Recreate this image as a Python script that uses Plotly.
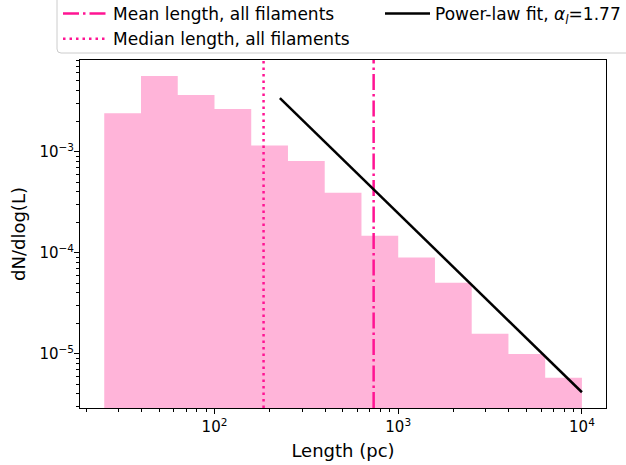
import numpy as np
import plotly.graph_objects as go

# Histogram of filament lengths: log-spaced bins (0.2 dex) and dN/dlog(L) per bin
bin_edges_log = [1.4, 1.6, 1.8, 2.0, 2.2, 2.4, 2.6, 2.8, 3.0, 3.2, 3.4, 3.6, 3.8, 4.0]
dn_dlogl = [2.40e-3, 5.60e-3, 3.63e-3, 2.64e-3, 1.15e-3, 8.09e-4, 3.91e-4,
            1.47e-4, 8.97e-5, 5.05e-5, 1.58e-5, 9.95e-6, 5.77e-6]

# Summary statistics of all filaments (pc)
mean_length = 735.0
median_length = 185.0

# Power-law fit: dN/dlog(L) = norm * L^(-alpha) over the fitted length range
fit_alpha = 1.77
fit_norm = 50.0
fit_range = [227.0, 1.0e4]

# Axis ranges (log10 units) and tick labels
x_range = [1.268, 4.131]
y_range = [-5.537, -2.094]
x_tickvals = [1e2, 1e3, 1e4]
x_ticktext = ["10<sup>2</sup>", "10<sup>3</sup>", "10<sup>4</sup>"]
y_tickvals = [1e-5, 1e-4, 1e-3]
y_ticktext = ["10<sup>\u22125</sup>", "10<sup>\u22124</sup>", "10<sup>\u22123</sup>"]

FONT = "DejaVu Sans"
PINK = "#FF1493"
HIST_FILL = "rgba(255,105,180,0.5)"

edges = [10 ** e for e in bin_edges_log]
floor = 1e-9  # below the visible range, bars are clipped at the axis bottom

# step outline of the histogram, closed on itself for the fill
hist_x = [edges[0]] + edges[:-1] + [edges[-1], edges[-1]]
hist_y = [floor] + dn_dlogl + [dn_dlogl[-1], floor]

fit_x = np.array(fit_range)
fit_y = fit_norm * fit_x ** (-fit_alpha)

y_span = [10 ** y_range[0], 10 ** y_range[1]]

fig = go.Figure()

fig.add_trace(go.Scatter(
    x=hist_x, y=hist_y, mode="lines", line=dict(width=0, shape="hv"),
    fill="toself", fillcolor=HIST_FILL, showlegend=False, hoverinfo="skip",
))

fig.add_trace(go.Scatter(
    x=[mean_length, mean_length], y=y_span, mode="lines",
    line=dict(color=PINK, width=2.5, dash="16px,4px,2.5px,4px"),
    name="Mean length, all filaments", legend="legend",
))
fig.add_trace(go.Scatter(
    x=[median_length, median_length], y=y_span, mode="lines",
    line=dict(color=PINK, width=2.5, dash="2.5px,4px"),
    name="Median length, all filaments", legend="legend",
))
fig.add_trace(go.Scatter(
    x=fit_x, y=fit_y, mode="lines",
    line=dict(color="black", width=2.5),
    name="Power-law fit, <i>\u03b1</i><sub><i>l</i></sub>=1.77", legend="legend2",
))

W, H = 626, 465
ML, MR, MT, MB = 80, 20, 60, 57
PW, PH = W - ML - MR, H - MT - MB


def px_x(px):
    return (px - ML) / PW


def px_y(py):
    return (H - MB - py) / PH


# legend frame: rounded box running off the top/right of the figure
bx0, bx1 = px_x(57), px_x(660)
by0, by1 = px_y(53), px_y(-10)
rx, ry = 4 / PW, 4 / PH
frame_path = (
    f"M{bx1},{by0} L{bx0 + rx},{by0} Q{bx0},{by0} {bx0},{by0 + ry} "
    f"L{bx0},{by1} L{bx1},{by1} Z"
)

legend_common = dict(
    font=dict(family=FONT, size=17, color="black"),
    bgcolor="rgba(0,0,0,0)", borderwidth=0,
    xanchor="left", yanchor="top", itemwidth=45,
    orientation="v", tracegroupgap=0,
)

fig.update_layout(
    width=W, height=H,
    margin=dict(l=ML, r=MR, t=MT, b=MB, pad=0, autoexpand=False),
    paper_bgcolor="white", plot_bgcolor="white",
    font=dict(family=FONT, size=15, color="black"),
    legend=dict(x=px_x(58), y=px_y(-4), **legend_common),
    legend2=dict(x=px_x(380), y=px_y(-4), **legend_common),
    shapes=[dict(
        type="path", xref="paper", yref="paper", path=frame_path,
        line=dict(color="#cccccc", width=1), fillcolor="rgba(255,255,255,0.8)",
        layer="above",
    )],
    xaxis=dict(
        type="log", range=x_range, showgrid=False, zeroline=False,
        showline=True, linecolor="black", linewidth=1, mirror=True,
        ticks="outside", ticklen=5, tickwidth=1, tickcolor="black",
        tickvals=x_tickvals, ticktext=x_ticktext,
        tickfont=dict(family=FONT, size=15, color="black"),
        minor=dict(
            ticks="outside", ticklen=3, tickwidth=0.8, tickcolor="black",
            tickvals=[m * 10 ** d for d in (1, 2, 3) for m in range(2, 10)],
            showgrid=False,
        ),
        title=dict(text="Length (pc)", font=dict(family=FONT, size=18), standoff=9),
    ),
    yaxis=dict(
        type="log", range=y_range, showgrid=False, zeroline=False,
        showline=True, linecolor="black", linewidth=1, mirror=True,
        ticks="outside", ticklen=5, tickwidth=1, tickcolor="black",
        tickvals=y_tickvals, ticktext=y_ticktext, ticklabelstandoff=-3,
        tickfont=dict(family=FONT, size=15, color="black"),
        minor=dict(
            ticks="outside", ticklen=3, tickwidth=0.8, tickcolor="black",
            tickvals=[m * 10.0 ** d for d in (-6, -5, -4, -3) for m in range(2, 10)],
            showgrid=False,
        ),
        title=dict(text="dN/dlog(L)", font=dict(family=FONT, size=18), standoff=9),
    ),
)

fig.write_html("out.html")
